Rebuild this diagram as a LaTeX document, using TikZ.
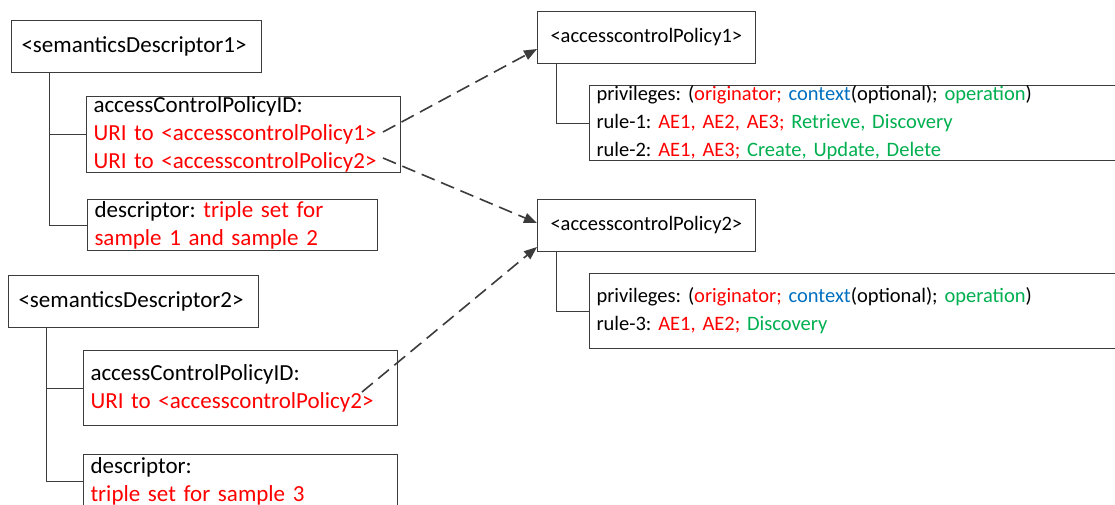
\documentclass[tikz,border=0pt]{standalone}
\usepackage{fontspec}
\setmainfont{Carlito}
\usetikzlibrary{calc,arrows.meta}
\definecolor{tred}{RGB}{255,0,0}
\definecolor{tgreen}{RGB}{0,176,80}
\definecolor{tblue}{RGB}{0,112,192}
\definecolor{lgray}{RGB}{60,60,60}
\newcommand{\rd}[1]{\textcolor{tred}{#1}}
\newcommand{\gn}[1]{\textcolor{tgreen}{#1}}
\newcommand{\bl}[1]{\textcolor{tblue}{#1}}
\tikzset{
  box/.style={draw=lgray, line width=1pt, rectangle, anchor=north west, align=left,
    font=\frenchspacing\fontsize{23}{28}\selectfont, inner xsep=7pt, inner ysep=0pt},
  rbox/.style={box, font=\frenchspacing\fontsize{20.5}{28}\selectfont},
  tree/.style={draw=lgray, line width=1pt},
  link/.style={draw=lgray, line width=1.6pt, dash pattern=on 14pt off 7pt,
    -{Triangle[length=13pt,width=10pt]}}
}
\begin{document}
\begin{tikzpicture}[x=1pt,y=-1pt]
\useasboundingbox (0,0) rectangle (1115,504);
\fill[white] (0,0) rectangle (1115,504);
\clip (0,0) rectangle (1115,504);
% left column
\node[box, minimum width=250pt, minimum height=52pt, text width=230pt, inner xsep=10pt] (sd1) at (11,20) {<semanticsDescriptor1>};
\node[box, minimum width=314pt, minimum height=74pt, text width=300pt] (id1) at (86,96)
  {accessControlPolicyID:\\ \rd{URI to <accesscontrolPolicy1>}\\ \rd{URI to <accesscontrolPolicy2>}};
\node[box, minimum width=290pt, minimum height=51pt, text width=276pt] (d1) at (87,199)
  {descriptor: \rd{triple set for}\\ \rd{sample 1 and sample 2}};
\node[box, minimum width=250pt, minimum height=52pt, text width=230pt, inner xsep=10pt] (sd2) at (8,275) {<semanticsDescriptor2>};
\node[box, minimum width=314pt, minimum height=75pt, text width=300pt] (id2) at (83,350)
  {accessControlPolicyID:\\ \rd{URI to <accesscontrolPolicy2>}};
\node[box, minimum width=314pt, minimum height=54pt, text width=300pt] (d2) at (83,454)
  {descriptor:\\ \rd{triple set for sample 3}};
% right column
\node[rbox, minimum width=218pt, minimum height=52pt, text width=192pt, inner xsep=13pt] (acp1) at (537,11) {<accesscontrolPolicy1>};
\node[rbox, minimum width=600pt, minimum height=75pt, text width=586pt] (p1) at (589,85)
  {privileges: (\rd{originator;} \bl{context}(optional); \gn{operation})\\
   rule-1: \rd{AE1, AE2, AE3;} \gn{Retrieve, Discovery}\\
   rule-2: \rd{AE1, AE3;} \gn{Create, Update, Delete}};
\node[rbox, minimum width=218pt, minimum height=52pt, text width=192pt, inner xsep=13pt] (acp2) at (537,199) {<accesscontrolPolicy2>};
\node[rbox, minimum width=600pt, minimum height=75pt, text width=586pt] (p2) at (589,273)
  {privileges: (\rd{originator;} \bl{context}(optional); \gn{operation})\\
   rule-3: \rd{AE1, AE2;} \gn{Discovery}};
% tree lines
\draw[tree] ($(sd1.south west)+(38,0)$) |- (d1.west);
\draw[tree] ($(sd1.south west)+(38,0)$) |- (id1.west);
\draw[tree] ($(sd2.south west)+(38,0)$) |- (d2.west);
\draw[tree] ($(sd2.south west)+(38,0)$) |- (id2.west);
\draw[tree] ($(acp1.south west)+(19,0)$) |- (p1.west);
\draw[tree] ($(acp2.south west)+(19,0)$) |- (p2.west);
% dashed links
\coordinate (s1) at (383,132);
\coordinate (s2) at (383,158);
\coordinate (s3) at (362,392);
\draw[link] (s1) -- ($(acp1.north west)+(0,38)$);
\draw[link] (s2) -- ($(acp2.north west)+(0,24)$);
\draw[link] (s3) -- ($(acp2.north west)+(0,48)$);
\end{tikzpicture}
\end{document}
